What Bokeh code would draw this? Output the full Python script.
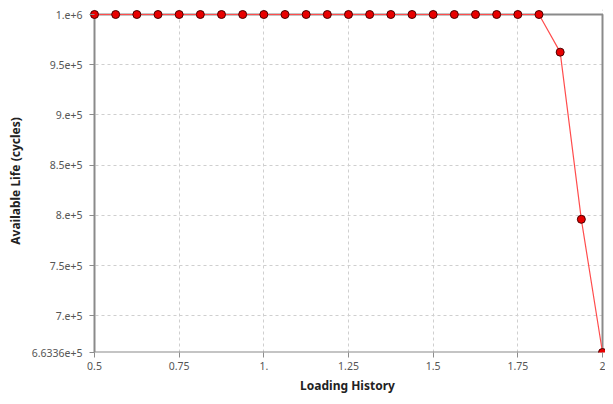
from bokeh.plotting import figure
from bokeh.models import BoxAnnotation, Range1d, FixedTicker
from bokeh.embed import file_html
from bokeh.resources import INLINE

loading_history = [0.5, 0.5625, 0.625, 0.6875, 0.75, 0.8125, 0.875, 0.9375,
                   1.0, 1.0625, 1.125, 1.1875, 1.25, 1.3125, 1.375, 1.4375,
                   1.5, 1.5625, 1.625, 1.6875, 1.75, 1.8125, 1.875, 1.9375, 2.0]
available_life = [1e6, 1e6, 1e6, 1e6, 1e6, 1e6, 1e6, 1e6,
                  1e6, 1e6, 1e6, 1e6, 1e6, 1e6, 1e6, 1e6,
                  1e6, 1e6, 1e6, 1e6, 1e6, 1e6, 962500, 796000, 663360]

x_ticks = [0.5, 0.75, 1.0, 1.25, 1.5, 1.75, 2.0]
x_tick_labels = ["0.5", "0.75", "1.", "1.25", "1.5", "1.75", "2"]
y_ticks = [663360, 700000, 750000, 800000, 850000, 900000, 950000, 1000000]
y_tick_labels = ["6.6336e+5", "7.e+5", "7.5e+5", "8.e+5", "8.5e+5", "9.e+5", "9.5e+5", "1.e+6"]

x_min, x_max = x_ticks[0], x_ticks[-1]
y_min, y_max = y_ticks[0], y_ticks[-1]

W, H = 605, 396
ML, MT, MB = 89, 9, 44
frame_w = W - ML
frame_h = H - MT - MB
box_w = frame_w - 5 - 3
box_h = frame_h - 5
x_unit = (x_max - x_min) / box_w
y_unit = (y_max - y_min) / box_h

p = figure(width=W, height=H, output_backend="svg", toolbar_location=None,
           x_range=Range1d(x_min - 5 * x_unit, x_max + 3 * x_unit),
           y_range=Range1d(y_min, y_max + 5 * y_unit),
           min_border_left=ML, min_border_right=0, min_border_top=MT, min_border_bottom=MB)
p.outline_line_color = None
p.background_fill_color = "white"
p.border_fill_color = "white"

box = BoxAnnotation(left=x_min, right=x_max, bottom=y_min, top=y_max,
                    fill_alpha=0, line_color="#8a8a8a", line_alpha=1.0,
                    line_width=2, level="underlay")
p.add_layout(box)

p.line(loading_history, available_life, line_color="#ff4d4d", line_width=1.2)
p.scatter(loading_history, available_life, size=8, fill_color="#e80000",
          line_color="#4a0000", line_width=1)

font = "Noto Sans"
p.xaxis.ticker = FixedTicker(ticks=x_ticks)
p.xaxis.major_label_overrides = dict(zip(x_ticks, x_tick_labels))
p.yaxis.ticker = FixedTicker(ticks=y_ticks)
p.yaxis.major_label_overrides = dict(zip(y_ticks, y_tick_labels))

for ax in (p.xaxis, p.yaxis):
    ax.axis_line_color = None
    ax.major_tick_line_color = "#8c8c8c"
    ax.minor_tick_line_color = None
    ax.major_label_text_font = font
    ax.major_label_text_font_size = "10.5px"
    ax.major_label_text_color = "#555555"
    ax.axis_label_text_font = font
    ax.axis_label_text_font_size = "12px"
    ax.axis_label_text_font_style = "bold"
    ax.axis_label_text_color = "#222222"

p.xaxis.major_tick_out = 5
p.xaxis.major_tick_in = 0
p.yaxis.major_tick_out = 0
p.yaxis.major_tick_in = 5

p.xaxis.axis_label = "Loading History"
p.yaxis.axis_label = "Available Life (cycles)"
p.xaxis.major_label_standoff = 4
p.xaxis.axis_label_standoff = 4
p.yaxis.major_label_standoff = 7
p.yaxis.axis_label_standoff = 5

p.grid.grid_line_color = "#cfcfcf"
p.grid.grid_line_dash = "3 3"
p.grid.grid_line_width = 1

open("out.html", "w").write(file_html(p, INLINE))
